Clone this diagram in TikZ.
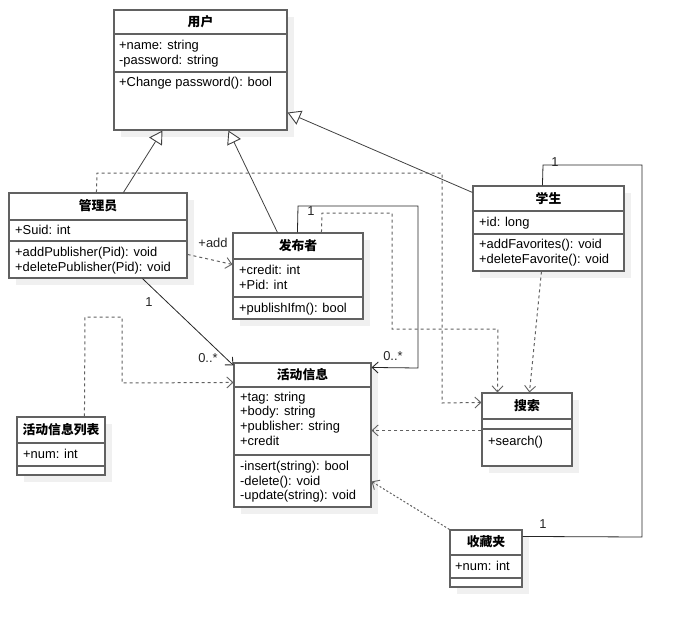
\documentclass[tikz,border=0pt]{standalone}
\usepackage{fontspec}
\setmainfont{Liberation Sans}
\newfontfamily\cjk{Noto Sans CJK SC}
\usetikzlibrary{arrows.meta,fit,shadows,calc}

\tikzset{
  classbox/.style={draw=black!62, line width=1.1pt, fill=white, inner sep=0pt,
    drop shadow={shadow xshift=7pt, shadow yshift=-7pt, fill=black!6, opacity=1}},
  divider/.style={draw=black!62, line width=1.1pt},
  classtitle/.style={font=\fontsize{12.8}{15}\cjk\bfseries, inner sep=0pt},
  member/.style={anchor=base west, inner sep=0pt, font=\fontsize{12.9}{15}\selectfont},
  mult/.style={inner sep=0pt, font=\fontsize{12.9}{15}\selectfont, text=black!85},
  assoc/.style={draw=black!85, line width=0.8pt},
  depend/.style={draw=black!62, line width=1pt, dash pattern=on 3pt off 3pt},
  openarrow/.style={-{Straight Barb[length=6pt, width=11pt, line width=0.9pt]}},
  inherit/.style={draw=black!75, line width=0.8pt,
    -{Triangle[length=13pt, width=15pt, fill=white, line width=0.9pt]}},
}

\begin{document}
\begin{tikzpicture}[x=1pt, y=-1pt]
\useasboundingbox (0,0) rectangle (683,627);

% ---------- classes ----------
% 用户
\node[classbox, fit={(114,10) (287,130)}] (user) {};
\draw[divider] (114,34) -- (287,34);
\draw[divider] (114,72) -- (287,72);
\node[classtitle] (userT) at (200.5,22) {用户};
\node[member] (userA1) at (119,49) {+name: string};
\node[member] (userA2) at (119,64) {-password: string};
\node[member] (userO1) at (119,86) {+Change password(): bool};

% 管理员
\node[classbox, fit={(9,193) (187,278)}] (adm) {};
\draw[divider] (9,220) -- (187,220);
\draw[divider] (9,241) -- (187,241);
\node[classtitle] (admT) at (98,206) {管理员};
\node[member] (admA1) at (15,234) {+Suid: int};
\node[member] (admO1) at (15,256) {+addPublisher(Pid): void};
\node[member] (admO2) at (15,271) {+deletePublisher(Pid): void};

% 发布者
\node[classbox, fit={(233,233) (363,319)}] (pub) {};
\draw[divider] (233,259) -- (363,259);
\draw[divider] (233,297) -- (363,297);
\node[classtitle] (pubT) at (298,246) {发布者};
\node[member] (pubA1) at (239,274) {+credit: int};
\node[member] (pubA2) at (239,289) {+Pid: int};
\node[member] (pubO1) at (239,312) {+publishIfm(): bool};

% 学生
\node[classbox, fit={(473,186) (624,271)}] (stu) {};
\draw[divider] (473,211) -- (624,211);
\draw[divider] (473,234) -- (624,234);
\node[classtitle] (stuT) at (548.5,199) {学生};
\node[member] (stuA1) at (479,226) {+id: long};
\node[member] (stuO1) at (479,248) {+addFavorites(): void};
\node[member] (stuO2) at (479,263) {+deleteFavorite(): void};

% 活动信息
\node[classbox, fit={(234,363) (371,507)}] (act) {};
\draw[divider] (234,387) -- (371,387);
\draw[divider] (234,455) -- (371,455);
\node[classtitle] (actT) at (302.5,375) {活动信息};
\node[member] (actA1) at (240,401) {+tag: string};
\node[member] (actA2) at (240,415) {+body: string};
\node[member] (actA3) at (240,430) {+publisher: string};
\node[member] (actA4) at (240,445) {+credit};
\node[member] (actO1) at (240,470) {-insert(string): bool};
\node[member] (actO2) at (240,485) {-delete(): void};
\node[member] (actO3) at (240,499) {-update(string): void};

% 搜索
\node[classbox, fit={(482,393) (572,466)}] (search) {};
\draw[divider] (482,419) -- (572,419);
\draw[divider] (482,429) -- (572,429);
\node[classtitle] (searchT) at (527,406) {搜索};
\node[member] (searchO1) at (488,445) {+search()};

% 收藏夹
\node[classbox, fit={(450,530) (522,587)}] (fav) {};
\draw[divider] (450,555) -- (522,555);
\draw[divider] (450,578) -- (522,578);
\node[classtitle] (favT) at (486,542) {收藏夹};
\node[member] (favA1) at (455,570) {+num: int};

% 活动信息列表
\node[classbox, fit={(17,417) (105,475)}] (list) {};
\draw[divider] (17,443) -- (105,443);
\draw[divider] (17,466) -- (105,466);
\node[classtitle] (listT) at (61,430) {活动信息列表};
\node[member] (listA1) at (23,458) {+num: int};

% ---------- generalisation ----------
\draw[inherit] ($(adm.north west)+(115,0)$) -- ($(user.south west)+(49,0)$);
\draw[inherit] ($(pub.north west)+(45,0)$) -- ($(user.south west)+(115,0)$);
\draw[inherit] ($(stu.north west)+(0,7)$) -- ($(user.south east)+(0,-18)$);

% ---------- associations ----------
\draw[assoc, openarrow] ($(adm.south west)+(134,0)$) -- ($(act.north west)+(0,3)$);
\node[mult] (m1) at (149,302) {1};
\node[mult] (m2) at (208,358) {0..*};

\coordinate (pa1) at (298,206);
\coordinate (pa2) at (418,206);
\coordinate (pa3) at (418,368);
\draw[assoc, openarrow] ($(pub.north west)+(65,0)$) -- (pa1) -- (pa2) -- (pa3) -- ($(act.north east)+(0,5)$);
\node[mult] (m3) at (311,211) {1};
\node[mult] (m4) at (393,356) {0..*};

\coordinate (sf1) at (543,165);
\coordinate (sf2) at (642,165);
\coordinate (sf3) at (642,537);
\draw[assoc] ($(stu.north west)+(70,0)$) -- (sf1) -- (sf2) -- (sf3) -- ($(fav.north east)+(0,7)$);
\node[mult] (m5) at (555,162) {1};
\node[mult] (m6) at (543,524) {1};

% ---------- dependencies ----------
\draw[depend, openarrow] ($(adm.north east)+(0,62)$) -- ($(pub.north west)+(0,32)$);
\node[mult] (madd) at (213,243) {+add};

\coordinate (as1) at (97,173);
\coordinate (as2) at (442,173);
\coordinate (as3) at (442,403);
\draw[depend, openarrow] ($(adm.north west)+(88,0)$) -- (as1) -- (as2) -- (as3) -- ($(search.north west)+(0,10)$);

\coordinate (ps1) at (322,213);
\coordinate (ps2) at (392,213);
\coordinate (ps3) at (392,329);
\coordinate (ps4) at (498,329);
\draw[depend, openarrow] ($(pub.north west)+(89,0)$) -- (ps1) -- (ps2) -- (ps3) -- (ps4) -- ($(search.north west)+(16,0)$);

\draw[depend, openarrow] ($(stu.south west)+(69,0)$) -- ($(search.north west)+(48,0)$);

\draw[depend, openarrow] ($(search.north west)+(0,38)$) -- ($(act.north east)+(0,68)$);

\draw[depend, openarrow, dash pattern=on 2pt off 2pt] (fav.north west) -- ($(act.north east)+(0,119)$);

\coordinate (la1) at (85,317);
\coordinate (la2) at (122,317);
\coordinate (la3) at (122,383);
\draw[depend, openarrow] ($(list.north west)+(68,0)$) -- (la1) -- (la2) -- (la3) -- ($(act.north west)+(0,20)$);

\end{tikzpicture}
\end{document}
